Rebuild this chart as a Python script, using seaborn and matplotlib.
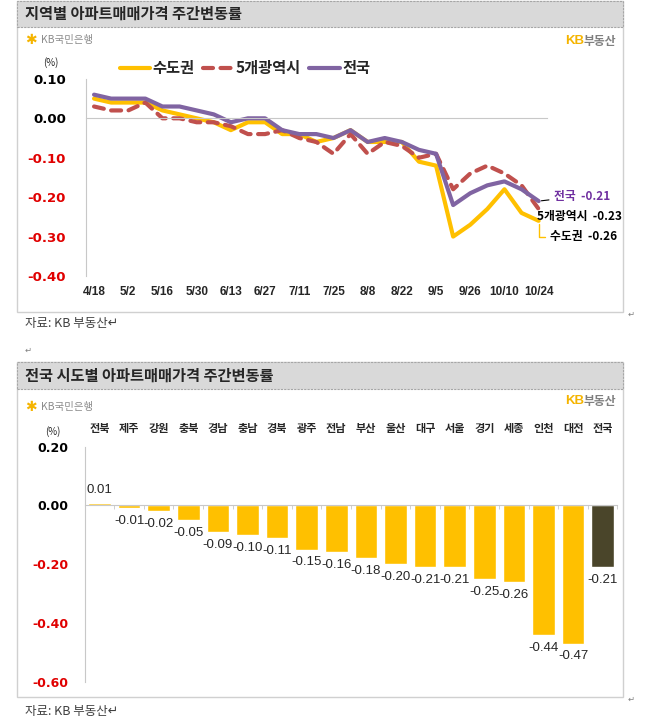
import numpy as np
import pandas as pd
import matplotlib.pyplot as plt
import seaborn as sns
from matplotlib.patches import Rectangle
from matplotlib.lines import Line2D

# ---- 주간 변동률 데이터 ----
weeks = ['4/18', '4/25', '5/2', '5/9', '5/16', '5/23', '5/30', '6/6', '6/13', '6/20',
         '6/27', '7/4', '7/11', '7/18', '7/25', '8/1', '8/8', '8/15', '8/22', '8/29',
         '9/5', '9/19', '9/26', '10/3', '10/10', '10/17', '10/24']
sudo = [0.05, 0.04, 0.04, 0.04, 0.02, 0.01, 0.00, -0.01, -0.03, -0.01,
        -0.01, -0.04, -0.04, -0.06, -0.05, -0.03, -0.06, -0.06, -0.06, -0.11,
        -0.12, -0.30, -0.27, -0.23, -0.18, -0.24, -0.26]
metro5 = [0.03, 0.02, 0.02, 0.04, 0.00, 0.00, -0.01, -0.01, -0.02, -0.04,
          -0.04, -0.03, -0.05, -0.06, -0.09, -0.04, -0.09, -0.06, -0.07, -0.10,
          -0.09, -0.18, -0.14, -0.12, -0.14, -0.17, -0.23]
nation = [0.06, 0.05, 0.05, 0.05, 0.03, 0.03, 0.02, 0.01, -0.01, 0.00,
          0.00, -0.03, -0.04, -0.04, -0.05, -0.03, -0.06, -0.05, -0.06, -0.08,
          -0.09, -0.22, -0.19, -0.17, -0.16, -0.18, -0.21]
series_names = ['수도권', '5개광역시', '전국']

# ---- 시도별 데이터 ----
regions = ['전북', '제주', '강원', '충북', '경남', '충남', '경북', '광주', '전남',
           '부산', '울산', '대구', '서울', '경기', '세종', '인천', '대전', '전국']
region_chg = [0.01, -0.01, -0.02, -0.05, -0.09, -0.10, -0.11, -0.15, -0.16,
              -0.18, -0.20, -0.21, -0.21, -0.25, -0.26, -0.44, -0.47, -0.21]

YELLOW = '#FFC000'
RED = '#C0504D'
PURPLE = '#8064A2'
DARK = '#4A452A'
NEG_RED = '#E00000'
AXIS_GRAY = '#C8C8C8'
KB_YELLOW = '#F5B400'

W, H = 658, 725

sns.set_style('white')
plt.rcParams['font.family'] = ['Noto Sans CJK KR', 'DejaVu Sans']
plt.rcParams['axes.unicode_minus'] = False


def fx(px):
    return px / W


def fy(py):
    return 1 - py / H


def rect_px(l, t, r, b):
    return [l / W, 1 - b / H, (r - l) / W, (b - t) / H]


fig = plt.figure(figsize=(W / 100, H / 100), dpi=100)

# ---- 패널 테두리 / 제목 띠 ----
for top, head_b, bottom, title in [(1, 27, 312, '지역별 아파트매매가격 주간변동률'),
                                   (362, 389, 697, '전국 시도별 아파트매매가격 주간변동률')]:
    fig.add_artist(Rectangle((fx(17), fy(bottom)), (623 - 17) / W, (bottom - top) / H,
                             transform=fig.transFigure, fill=False, ec='#D0D0D0', lw=1))
    fig.add_artist(Rectangle((fx(17), fy(head_b)), (623 - 17) / W, (head_b - top) / H,
                             transform=fig.transFigure, fc='#D9D9D9', ec='#A6A6A6',
                             lw=0.8, ls=(0, (2, 1))))
    fig.text(fx(25), fy((top + head_b) / 2), title, fontsize=11, fontweight='bold',
             va='center', ha='left')
    fig.text(fx(628), fy(bottom + 2), '↵', fontsize=6, color='#808080', va='center')


def logos(y_kb, y_re):
    fig.text(fx(25), fy(y_kb), '✱', color=KB_YELLOW, fontsize=10, va='center',
             family=['DejaVu Sans'])
    fig.text(fx(41), fy(y_kb), 'KB국민은행', color='#8C8C8C', fontsize=7.5, va='center')
    fig.text(fx(565), fy(y_re), 'KB', color=KB_YELLOW, fontsize=9.5, fontweight='bold',
             va='center', family=['Liberation Sans'])
    fig.text(fx(584), fy(y_re), '부동산', color='#7F7F7F', fontsize=8.5,
             fontweight='bold', va='center')


logos(40, 41)
logos(407, 401)

fig.text(fx(43), fy(63), '(%)', fontsize=7, va='center')
fig.text(fx(45), fy(432), '(%)', fontsize=7, va='center')

fig.text(fx(25), fy(324), '자료: KB 부동산↵', fontsize=9, color='#404040', va='center')
fig.text(fx(25), fy(350), '↵', fontsize=6, color='#808080', va='center')
fig.text(fx(25), fy(712), '자료: KB 부동산↵', fontsize=9, color='#404040', va='center')

# ---- 1) 지역별 주간 변동률 선 그래프 ----
line_df = pd.DataFrame({
    'idx': list(range(len(weeks))) * 3,
    'value': sudo + metro5 + nation,
    'series': [s for s in series_names for _ in weeks],
})

ax1 = fig.add_axes(rect_px(85.5, 78.9, 547.2, 276))
sns.lineplot(data=line_df, x='idx', y='value', hue='series', style='series',
             hue_order=series_names, style_order=series_names,
             palette=[YELLOW, RED, PURPLE],
             dashes={'수도권': '', '5개광역시': (2.4, 1.8), '전국': ''},
             linewidth=3, legend=False, ax=ax1)
for ln in ax1.lines:
    ln.set_dash_capstyle('round')
    ln.set_solid_joinstyle('round')

ax1.set_xlim(-0.5, len(weeks) - 0.5)
ax1.set_ylim(-0.4, 0.1)
ax1.set_xlabel('')
ax1.set_ylabel('')
for s in ['top', 'right']:
    ax1.spines[s].set_visible(False)
ax1.spines['left'].set_color(AXIS_GRAY)
ax1.spines['bottom'].set_color(AXIS_GRAY)
ax1.spines['bottom'].set_position(('data', 0))

ax1.set_xticks(range(0, len(weeks), 2))
ax1.set_xticklabels(weeks[::2])
ax1.set_xticks(np.arange(-0.5, len(weeks), 1), minor=True)
ax1.tick_params(axis='x', which='major', length=0, pad=121)
ax1.tick_params(axis='x', which='minor', direction='out', length=3, color=AXIS_GRAY)
for lab in ax1.get_xticklabels():
    lab.set_fontfamily('Liberation Sans')
    lab.set_fontweight('bold')
    lab.set_fontsize(8.5)

yt1 = [0.10, 0.00, -0.10, -0.20, -0.30, -0.40]
ax1.set_yticks(yt1)
ax1.set_yticklabels([f'{v:.2f}' for v in yt1])
ax1.tick_params(axis='y', direction='out', length=4, color=AXIS_GRAY, pad=10)
for lab, v in zip(ax1.get_yticklabels(), yt1):
    lab.set_fontfamily('DejaVu Sans')
    lab.set_fontweight('bold')
    lab.set_fontsize(9.5)
    lab.set_color('black' if v >= 0 else NEG_RED)

handles = [Line2D([0], [0], color=YELLOW, lw=3),
           Line2D([0], [0], color=RED, lw=3, ls=(0, (2.4, 1.8)), dash_capstyle='round'),
           Line2D([0], [0], color=PURPLE, lw=3)]
ax1.legend(handles, series_names, ncol=3, frameon=False, loc='center left',
           bbox_to_anchor=(fx(106), fy(68)), bbox_transform=fig.transFigure,
           handlelength=2.0, handletextpad=0.15, columnspacing=0.55,
           prop={'size': 11, 'weight': 'bold'})

last = len(weeks) - 1
ax1.annotate(f'전국  {nation[-1]:.2f}', xy=(last, nation[-1]), xytext=(15, 5),
             textcoords='offset pixels', fontsize=8.5, fontweight='bold', color='#7030A0',
             va='center', ha='left', annotation_clip=False,
             arrowprops=dict(arrowstyle='-', color='black', lw=0.8, shrinkA=1, shrinkB=2))
ax1.annotate(f'5개광역시  {metro5[-1]:.2f}', xy=(last, metro5[-1]), xytext=(-2, -8),
             textcoords='offset pixels', fontsize=8.5, fontweight='bold', color='black',
             va='center', ha='left', annotation_clip=False)
ax1.annotate(f'수도권  {sudo[-1]:.2f}', xy=(last, sudo[-1]), xytext=(11, -16),
             textcoords='offset pixels', fontsize=8.5, fontweight='bold', color='black',
             va='center', ha='left', annotation_clip=False,
             arrowprops=dict(arrowstyle='-', color=YELLOW, lw=1,
                             connectionstyle='angle,angleA=180,angleB=90,rad=0',
                             shrinkA=1, shrinkB=2))

# ---- 2) 시도별 막대 그래프 ----
bar_df = pd.DataFrame({'region': regions, 'value': region_chg})
bar_colors = [YELLOW] * (len(regions) - 1) + [DARK]

ax2 = fig.add_axes(rect_px(84.7, 446.7, 617.5, 681.7))
sns.barplot(data=bar_df, x='region', y='value', hue='region', palette=bar_colors,
            order=regions, hue_order=regions, width=0.77, saturation=1,
            legend=False, ax=ax2)
for c in ax2.containers:
    ax2.bar_label(c, fmt='%.2f', padding=5, fontsize=9.5, family='Liberation Sans')

ax2.set_xlim(-0.5, len(regions) - 0.5)
ax2.set_ylim(-0.6, 0.2)
ax2.set_xlabel('')
ax2.set_ylabel('')
for s in ['top', 'right']:
    ax2.spines[s].set_visible(False)
ax2.spines['left'].set_color(AXIS_GRAY)
ax2.spines['bottom'].set_color(AXIS_GRAY)
ax2.spines['bottom'].set_position(('data', 0))

ax2.set_xticks(range(len(regions)))
ax2.set_xticklabels(regions)
ax2.set_xticks(np.arange(-0.5, len(regions), 1), minor=True)
ax2.tick_params(axis='x', which='major', bottom=False, top=False,
                labelbottom=False, labeltop=True, pad=5)
ax2.tick_params(axis='x', which='minor', bottom=True, top=False, direction='out',
                length=3, color=AXIS_GRAY)
for lab in ax2.get_xticklabels():
    lab.set_fontweight('bold')
    lab.set_fontsize(8)

yt2 = [0.20, 0.00, -0.20, -0.40, -0.60]
ax2.set_yticks(yt2)
ax2.set_yticklabels([f'{v:.2f}' for v in yt2])
ax2.tick_params(axis='y', direction='out', length=4, color=AXIS_GRAY, pad=8)
for lab, v in zip(ax2.get_yticklabels(), yt2):
    lab.set_fontfamily('DejaVu Sans')
    lab.set_fontweight('bold')
    lab.set_fontsize(9)
    lab.set_color('black' if v >= 0 else NEG_RED)

fig.savefig('out.png', dpi=100)
